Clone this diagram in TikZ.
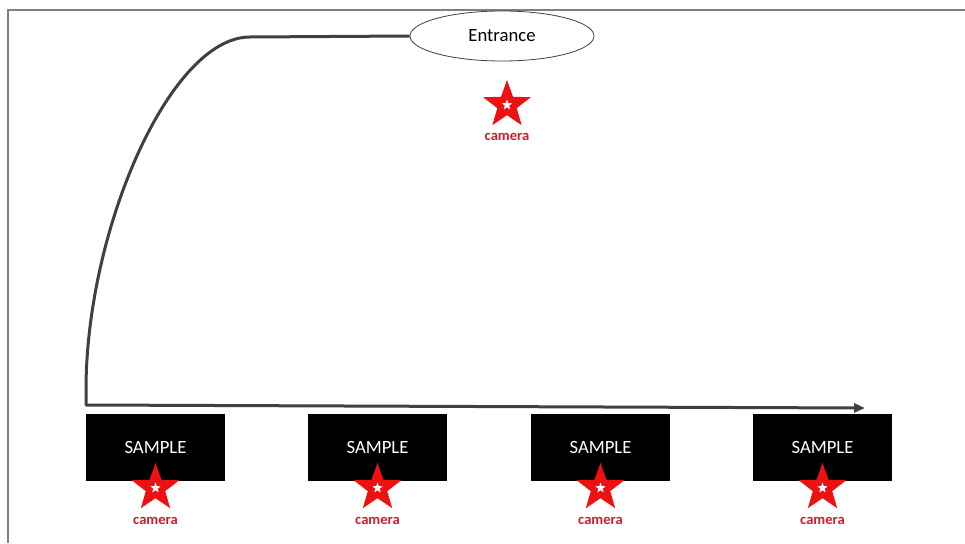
\documentclass[tikz,border=0pt]{standalone}
\usepackage{fontspec}
\setmainfont{Carlito}
\usetikzlibrary{shapes.geometric,arrows.meta}
\definecolor{linegray}{HTML}{404040}
\definecolor{framegray}{HTML}{808080}
\definecolor{starred}{HTML}{EE1111}
\definecolor{camred}{HTML}{C8202A}
\tikzset{
  samplebox/.style={fill=black, text=white, minimum width=139pt, minimum height=67pt, inner sep=0pt, font=\fontsize{18.7}{20}\selectfont},
  bigstar/.style={star, star points=5, star point ratio=2.45, minimum size=50pt, inner sep=0pt, fill=starred},
  smallstar/.style={star, star points=5, star point ratio=2.45, minimum size=11pt, inner sep=0pt, fill=white},
  camlabel/.style={text=camred, font=\bfseries\fontsize{14.6}{16}\selectfont, inner sep=0pt},
  pathline/.style={draw=linegray, line width=3pt, line join=round},
}
\begin{document}
\begin{tikzpicture}[x=1pt,y=-1pt]
\useasboundingbox (0,0) rectangle (965,543);
% frame
\draw[framegray, line width=1.5pt] (8,543) -- (8,10) -- (965,10);
% entrance
\node[ellipse, draw=linegray, line width=0.8pt, minimum width=184pt, minimum height=50pt, inner sep=0pt, font=\fontsize{18.7}{20}\selectfont] (ent) at (502,36) {Entrance};
\node[bigstar] (st0) at (507,105) {};
\node[smallstar] (sw0) at (st0.center) {};
\node[camlabel] (c0) at (507,137) {camera};
% path
\coordinate (corner) at (250,37);
\coordinate (bend) at (86,390);
\coordinate (down) at (86,405);
\coordinate (end) at (865,408);
\draw[pathline, -{Triangle[length=11pt,width=9pt]}] (ent.west) -- (corner) .. controls (170,37) and (86,230) .. (bend) -- (down) -- (end);
% samples
\foreach \i/\x in {1/155.5, 2/377.5, 3/600.5, 4/822.5}{
  \node[samplebox] (s\i) at (\x,447.5) {SAMPLE};
  \node[bigstar] (st\i) at (\x,488) {};
  \node[smallstar] (sw\i) at (st\i.center) {};
  \node[camlabel] (c\i) at (\x,521) {camera};
}
\end{tikzpicture}
\end{document}
